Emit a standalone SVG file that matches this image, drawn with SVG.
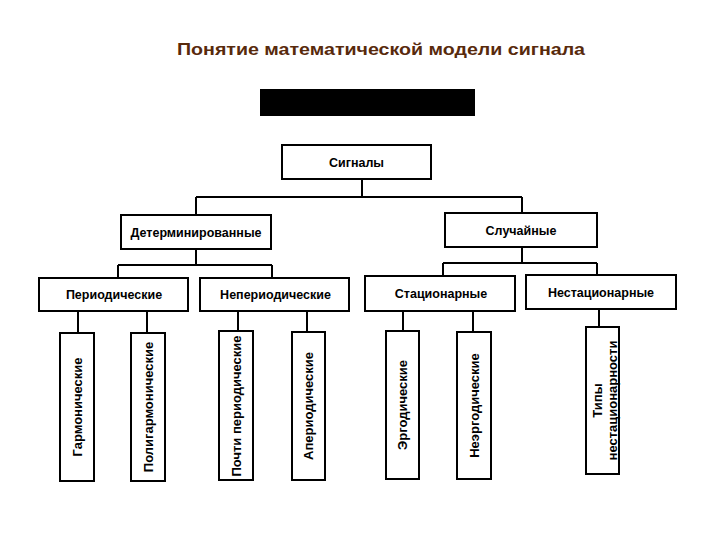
<svg xmlns="http://www.w3.org/2000/svg" width="720" height="540" viewBox="0 0 720 540">
<style>
.box{fill:#fff;stroke:#000;stroke-width:2}
.t{font-family:"Liberation Sans",Arial,sans-serif;font-weight:bold;font-size:12.5px;fill:#000;text-anchor:middle}
.v{font-size:13px}
.c{fill:none;stroke:#000;stroke-width:2}
.title{font-family:"Liberation Sans",Arial,sans-serif;font-weight:bold;font-size:17px;fill:#582a0c}
</style>
<rect width="720" height="540" fill="#fff"/>
<text class="title" x="177" y="55" textLength="408" lengthAdjust="spacingAndGlyphs">Понятие математической модели сигнала</text>
<rect id="banner" x="260" y="89" width="215" height="27" fill="#000"/>
<g id="connectors" class="c">
<path d="M362,179V197M196,197H522M196,197V215M522,197V213"/>
<path d="M196,249V265M118,265H272M118,265V278M272,265V278"/>
<path d="M78,311V333M147,311V333M238,311V331M307,311V332"/>
<path d="M522,247V263M443,263H597M443,263V276M597,263V275"/>
<path d="M403,311V331M473,311V332M599,309V327"/>
</g>
<g id="signals"><rect class="box" x="282" y="145" width="149" height="34"/><text class="t" x="356.5" y="166.5">Сигналы</text></g>
<g id="determ"><rect class="box" x="121" y="215" width="150" height="34"/><text class="t" x="196" y="236.5">Детерминированные</text></g>
<g id="random"><rect class="box" x="445" y="213" width="152" height="34"/><text class="t" x="521" y="234.5">Случайные</text></g>
<g id="periodic"><rect class="box" x="39" y="278" width="149" height="33"/><text class="t" x="114" y="298.5">Периодические</text></g>
<g id="nonperiodic"><rect class="box" x="200" y="278" width="149" height="33"/><text class="t" x="275.5" y="298.5">Непериодические</text></g>
<g id="stationary"><rect class="box" x="365" y="276" width="150" height="35"/><text class="t" x="441" y="297.5">Стационарные</text></g>
<g id="nonstationary"><rect class="box" x="526" y="275" width="150" height="34"/><text class="t" x="601" y="296.5">Нестационарные</text></g>
<g id="harmonic"><rect class="box" x="60" y="333" width="34" height="148"/><text class="t v" transform="translate(77,407) rotate(-90)" y="4.5">Гармонические</text></g>
<g id="polyharmonic"><rect class="box" x="131" y="333" width="34" height="148"/><text class="t v" transform="translate(148,407) rotate(-90)" y="4.5">Полигармонические</text></g>
<g id="almostperiodic"><rect class="box" x="219" y="331" width="34" height="149"/><text class="t v" transform="translate(236,406) rotate(-90)" y="4.5">Почти периодические</text></g>
<g id="aperiodic"><rect class="box" x="292" y="332" width="33" height="148"/><text class="t v" transform="translate(308.5,406) rotate(-90)" y="4.5">Апериодические</text></g>
<g id="ergodic"><rect class="box" x="386" y="331" width="33" height="148"/><text class="t v" transform="translate(402.5,405) rotate(-90)" y="4.5">Эргодические</text></g>
<g id="nonergodic"><rect class="box" x="457" y="332" width="34" height="147"/><text class="t v" transform="translate(474,405.5) rotate(-90)" y="4.5">Неэргодические</text></g>
<g id="nstypes"><rect class="box" x="586" y="327" width="33" height="147"/><text class="t v" transform="translate(602.5,400.5) rotate(-90)"><tspan x="0" y="-0.5">Типы</tspan><tspan x="0" y="14.5">нестационарности</tspan></text></g>
</svg>
